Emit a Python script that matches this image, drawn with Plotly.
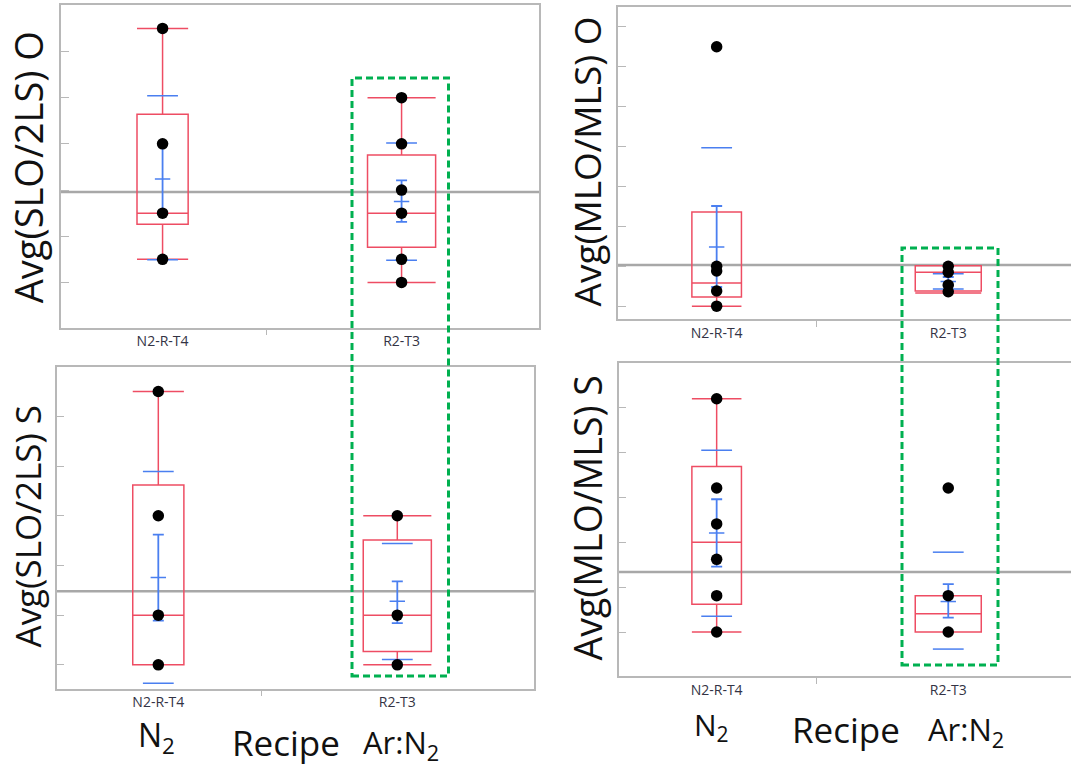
import plotly.graph_objects as go

W, H = 1071, 767

# ---------------- data (arbitrary units) ----------------
categories = ["N2-R-T4", "R2-T3"]
cat_pos = [0, 1]
category_boundary = [0.433]

# Avg(SLO/2LS) O  (top-left)
slo_o_pts_n2 = [5.5, 3.0, 1.5, 0.5]
slo_o_pts_r2 = [4.0, 3.0, 2.0, 1.5, 0.5, 0.0]
slo_o_q1 = [1.26, 0.76]
slo_o_med = [1.5, 1.5]
slo_o_q3 = [3.64, 2.76]
slo_o_lo = [0.5, 0.0]
slo_o_hi = [5.5, 4.0]
slo_o_mean = [2.24, 1.75]
slo_o_ci_lo = [1.52, 1.31]
slo_o_ci_hi = [2.99, 2.21]
slo_o_sd_lo = [0.49, 0.48]
slo_o_sd_hi = [4.04, 3.02]
slo_o_grand = 1.96
slo_o_yticks = [0, 1, 2, 3, 4, 5]

# Avg(MLO/MLS) O  (top-right)
mlo_o_pts_n2 = [6.5, 1.0, 0.88, 0.38, 0.0]
mlo_o_pts_r2 = [1.0, 0.85, 0.53, 0.36]
mlo_o_q1 = [0.23, 0.38]
mlo_o_med = [0.58, 0.85]
mlo_o_q3 = [2.36, 1.01]
mlo_o_lo = [0.0, 0.33]
mlo_o_hi = [2.36, 1.01]
mlo_o_mean = [1.48, 0.62]
mlo_o_ci_lo = [0.48, 0.52]
mlo_o_ci_hi = [2.51, 0.73]
mlo_o_sd_lo = [-1.01, 0.43]
mlo_o_sd_hi = [3.97, 0.81]
mlo_o_grand = 1.03
mlo_o_yticks = [0, 1, 2, 3, 4, 5, 6, 7]

# Avg(SLO/2LS) S  (bottom-left)
slo_s_pts_n2 = [5.5, 3.0, 1.0, 0.0]
slo_s_pts_r2 = [3.0, 1.0, 0.0]
slo_s_q1 = [0.0, 0.27]
slo_s_med = [1.0, 1.0]
slo_s_q3 = [3.62, 2.51]
slo_s_lo = [0.0, 0.0]
slo_s_hi = [5.5, 3.0]
slo_s_mean = [1.76, 1.28]
slo_s_ci_lo = [0.89, 0.84]
slo_s_ci_hi = [2.62, 1.68]
slo_s_sd_lo = [-0.37, 0.11]
slo_s_sd_hi = [3.89, 2.44]
slo_s_grand = 1.48
slo_s_yticks = [0, 1, 2, 3, 4, 5]

# Avg(MLO/MLS) S  (bottom-right)
mlo_s_pts_n2 = [5.2, 3.21, 2.41, 1.62, 0.81, 0.0]
mlo_s_pts_r2 = [3.21, 0.81, 0.0]
mlo_s_q1 = [0.62, 0.0]
mlo_s_med = [2.0, 0.41]
mlo_s_q3 = [3.69, 0.81]
mlo_s_lo = [0.0, 0.0]
mlo_s_hi = [5.2, 0.81]
mlo_s_mean = [2.21, 0.68]
mlo_s_ci_lo = [1.46, 0.32]
mlo_s_ci_hi = [2.96, 1.07]
mlo_s_sd_lo = [0.35, -0.38]
mlo_s_sd_hi = [4.05, 1.78]
mlo_s_grand = 1.34
mlo_s_yticks = [0, 1, 2, 3, 4, 5]

box_widths = [0.214, 0.285]

# ---------------- styling ----------------
RED = "#ee4d63"
BLUE = "#4a7ff0"
GREY_REF = "#a8a8a8"
FRAME = "#b8b8b8"
GREEN = "#00b050"
FONT = "Open Sans"


def px_x(p):
    return p / W


def px_y(p):
    return 1 - p / H


panels = [
    dict(ax="", title="Avg(SLO/2LS) O",
         pts=[slo_o_pts_n2, slo_o_pts_r2], q1=slo_o_q1, med=slo_o_med, q3=slo_o_q3,
         lo=slo_o_lo, hi=slo_o_hi, mean=slo_o_mean, ci_lo=slo_o_ci_lo, ci_hi=slo_o_ci_hi,
         sd_lo=slo_o_sd_lo, sd_hi=slo_o_sd_hi, grand=slo_o_grand, yticks=slo_o_yticks,
         dom_x=(61, 539), dom_y=(5.3, 327.7), xr=(-0.425, 1.575), yr=(-0.98, 6.0), right_open=False),
    dict(ax="2", title="Avg(MLO/MLS) O",
         pts=[mlo_o_pts_n2, mlo_o_pts_r2], q1=mlo_o_q1, med=mlo_o_med, q3=mlo_o_q3,
         lo=mlo_o_lo, hi=mlo_o_hi, mean=mlo_o_mean, ci_lo=mlo_o_ci_lo, ci_hi=mlo_o_ci_hi,
         sd_lo=mlo_o_sd_lo, sd_hi=mlo_o_sd_hi, grand=mlo_o_grand, yticks=mlo_o_yticks,
         dom_x=(618, W), dom_y=(7.3, 319.3), xr=(-0.426, 1.530), yr=(-0.33, 7.49), right_open=True),
    dict(ax="3", title="Avg(SLO/2LS) S",
         pts=[slo_s_pts_n2, slo_s_pts_r2], q1=slo_s_q1, med=slo_s_med, q3=slo_s_q3,
         lo=slo_s_lo, hi=slo_s_hi, mean=slo_s_mean, ci_lo=slo_s_ci_lo, ci_hi=slo_s_ci_hi,
         sd_lo=slo_s_sd_lo, sd_hi=slo_s_sd_hi, grand=slo_s_grand, yticks=slo_s_yticks,
         dom_x=(56.5, 534), dom_y=(366.7, 688.7), xr=(-0.426, 1.572), yr=(-0.48, 6.0), right_open=False),
    dict(ax="4", title="Avg(MLO/MLS) S",
         pts=[mlo_s_pts_n2, mlo_s_pts_r2], q1=mlo_s_q1, med=mlo_s_med, q3=mlo_s_q3,
         lo=mlo_s_lo, hi=mlo_s_hi, mean=mlo_s_mean, ci_lo=mlo_s_ci_lo, ci_hi=mlo_s_ci_hi,
         sd_lo=mlo_s_sd_lo, sd_hi=mlo_s_sd_hi, grand=mlo_s_grand, yticks=mlo_s_yticks,
         dom_x=(618.7, W), dom_y=(363.3, 676), xr=(-0.423, 1.530), yr=(-0.98, 5.99), right_open=True),
]

fig = go.Figure()
layout_axes = {}

for p in panels:
    xa, ya = "x" + p["ax"], "y" + p["ax"]
    # boxes
    for i, c in enumerate(cat_pos):
        fig.add_trace(go.Box(
            x=[c], q1=[p["q1"][i]], median=[p["med"][i]], q3=[p["q3"][i]],
            lowerfence=[p["lo"][i]], upperfence=[p["hi"][i]],
            width=box_widths[i], whiskerwidth=1, boxpoints=False,
            line=dict(color=RED, width=1.5), fillcolor="rgba(0,0,0,0)",
            showlegend=False, hoverinfo="skip", xaxis=xa, yaxis=ya))
    # std dev lines
    sd_x = [c for c in cat_pos for _ in range(2)]
    sd_y = [v for i in range(len(cat_pos)) for v in (p["sd_lo"][i], p["sd_hi"][i])]
    fig.add_trace(go.Scatter(
        x=sd_x, y=sd_y, mode="markers",
        marker=dict(symbol="line-ew", size=22, color=BLUE, line=dict(color=BLUE, width=1.5)),
        showlegend=False, hoverinfo="skip", xaxis=xa, yaxis=ya))
    # mean with error bars
    fig.add_trace(go.Scatter(
        x=cat_pos, y=p["mean"], mode="markers",
        marker=dict(symbol="line-ew", size=11, color=BLUE, line=dict(color=BLUE, width=1.5)),
        error_y=dict(type="data", symmetric=False,
                     array=[h - m for h, m in zip(p["ci_hi"], p["mean"])],
                     arrayminus=[m - l for m, l in zip(p["mean"], p["ci_lo"])],
                     color=BLUE, thickness=1.8, width=5.5),
        showlegend=False, hoverinfo="skip", xaxis=xa, yaxis=ya))
    # data points
    px_ = [c for c, pts in zip(cat_pos, p["pts"]) for _ in pts]
    py_ = [v for pts in p["pts"] for v in pts]
    fig.add_trace(go.Scatter(
        x=px_, y=py_, mode="markers",
        marker=dict(symbol="circle", size=11.5, color="black"),
        showlegend=False, hoverinfo="skip", xaxis=xa, yaxis=ya))
    # grand mean line
    fig.add_shape(type="line", xref=xa + " domain", yref=ya, x0=0, x1=1,
                  y0=p["grand"], y1=p["grand"], layer="below",
                  line=dict(color=GREY_REF, width=2.5))

    key = p["ax"]
    layout_axes["xaxis" + key] = dict(
        domain=[px_x(p["dom_x"][0]), px_x(p["dom_x"][1])], range=list(p["xr"]),
        anchor=ya, tickmode="array", tickvals=cat_pos, ticktext=categories,
        ticks="", showgrid=False, zeroline=False,
        showline=True, linecolor=FRAME, linewidth=1.5, mirror=True,
        tickfont=dict(family=FONT, size=14, color="#333344"),
        minor=dict(tickmode="array", tickvals=category_boundary, ticks="outside",
                   ticklen=6, tickcolor=FRAME, tickwidth=1.2, showgrid=False),
    )
    layout_axes["yaxis" + key] = dict(
        domain=[px_y(p["dom_y"][1]), px_y(p["dom_y"][0])], range=list(p["yr"]),
        anchor=xa, tickmode="array", tickvals=p["yticks"], showticklabels=False,
        ticks="inside", ticklen=8, tickcolor=FRAME, tickwidth=1.2,
        showgrid=False, zeroline=False,
        showline=True, linecolor=FRAME, linewidth=1.5, mirror=not p["right_open"],
    )

# green highlight rectangles (annotation overlay, pixel positions)
for (x0, x1, y0, y1) in [(352, 448.5, 78, 676), (902, 998, 248, 665)]:
    fig.add_shape(type="rect", xref="paper", yref="paper",
                  x0=px_x(x0), x1=px_x(x1), y0=px_y(y1), y1=px_y(y0),
                  line=dict(color=GREEN, width=3, dash="7px,4px"),
                  fillcolor="rgba(0,0,0,0)", layer="above")

annotations = []
# rotated y titles
for text, x, y, size in [("Avg(SLO/2LS) O", 27.7, 167.5, 38),
                         ("Avg(SLO/2LS) S", 26.5, 526, 35),
                         ("Avg(MLO/MLS) O", 586, 161.5, 37),
                         ("Avg(MLO/MLS) S", 587, 518.5, 37.5)]:
    annotations.append(dict(text=text, x=px_x(x), y=px_y(y), xref="paper", yref="paper",
                            xanchor="center", yanchor="middle", textangle=-90, showarrow=False,
                            font=dict(family=FONT, size=size, color="#111111")))
# bottom labels
for text, x, y, size in [("N<sub>2</sub>", 156, 737, 32),
                         ("Recipe", 285.5, 742, 35),
                         ("Ar:N<sub>2</sub>", 401, 744, 31),
                         ("N<sub>2</sub>", 711, 725.5, 30),
                         ("Recipe", 846, 729, 35),
                         ("Ar:N<sub>2</sub>", 966, 731, 31)]:
    annotations.append(dict(text=text, x=px_x(x), y=px_y(y), xref="paper", yref="paper",
                            xanchor="center", yanchor="middle", showarrow=False,
                            font=dict(family=FONT, size=size, color="#111111")))

fig.update_layout(
    width=W, height=H, margin=dict(l=0, r=0, t=0, b=0),
    paper_bgcolor="white", plot_bgcolor="white",
    showlegend=False, boxmode="overlay",
    annotations=annotations,
    **layout_axes,
)

fig.write_html("out.html")
